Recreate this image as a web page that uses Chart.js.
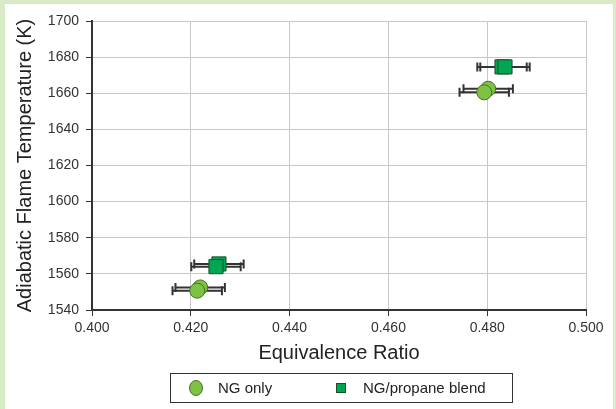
<!DOCTYPE html>
<html><head><meta charset="utf-8">
<script src="https://cdn.jsdelivr.net/npm/chart.js@4"></script>
<style>html,body{margin:0;padding:0;background:#fff}canvas{display:block}</style>
</head><body>
<canvas id="c" width="616" height="409"></canvas>
<script>
// ---- data ----
const xTicks = [0.400, 0.420, 0.440, 0.460, 0.480, 0.500];
const yTicks = [1540, 1560, 1580, 1600, 1620, 1640, 1660, 1680, 1700];
const ngX   = [0.4219, 0.4213, 0.4802, 0.4794];
const ngY   = [1552.5, 1550.7, 1662.5, 1660.5];
const ngErr = [0.005, 0.005, 0.005, 0.005];
const blX   = [0.4257, 0.4251, 0.4830, 0.4836];
const blY   = [1565.5, 1564.0, 1674.6, 1674.6];
const blErr = [0.005, 0.005, 0.005, 0.005];
const seriesNames = ['NG only', 'NG/propane blend'];

const toPts = (xs, ys) => xs.map((x, i) => ({x, y: ys[i]}));

const bgPlugin = {
  id: 'bg',
  beforeDraw(chart) {
    const ctx = chart.ctx;
    ctx.save();
    ctx.fillStyle = '#d9ebc6';
    ctx.fillRect(0, 0, chart.width, chart.height);
    ctx.fillStyle = '#ffffff';
    ctx.fillRect(5, 4, chart.width - 8, chart.height - 4);
    ctx.restore();
  }
};

const errPlugin = {
  id: 'errbars',
  beforeDatasetsDraw(chart) {
    const ctx = chart.ctx, xs = chart.scales.x, ys = chart.scales.y;
    ctx.save();
    ctx.strokeStyle = '#333333';
    ctx.lineWidth = 2;
    chart.data.datasets.forEach(ds => {
      ds.data.forEach((p, i) => {
        const e = ds.xErr[i];
        const x1 = xs.getPixelForValue(p.x - e), x2 = xs.getPixelForValue(p.x + e);
        const y = ys.getPixelForValue(p.y);
        ctx.beginPath();
        ctx.moveTo(x1, y); ctx.lineTo(x2, y);
        ctx.moveTo(x1, y - 4.5); ctx.lineTo(x1, y + 4.5);
        ctx.moveTo(x2, y - 4.5); ctx.lineTo(x2, y + 4.5);
        ctx.stroke();
      });
    });
    ctx.restore();
  }
};

const legendPlugin = {
  id: 'boxLegend',
  afterDraw(chart) {
    const ctx = chart.ctx;
    const ds = chart.data.datasets;
    ctx.save();
    ctx.strokeStyle = '#333333';
    ctx.lineWidth = 1;
    ctx.strokeRect(170.5, 373.5, 342, 29);
    const cy = 388;
    ctx.font = '15px "Liberation Sans", Arial, sans-serif';
    ctx.textBaseline = 'middle';
    // circle
    ctx.beginPath();
    ctx.ellipse(196, cy, 6.5, 7.5, 0, 0, Math.PI * 2);
    ctx.fillStyle = ds[0].backgroundColor; ctx.fill();
    ctx.strokeStyle = ds[0].borderColor; ctx.stroke();
    ctx.fillStyle = '#222222';
    ctx.fillText(ds[0].label, 218, cy + 1);
    // square
    ctx.fillStyle = ds[1].backgroundColor;
    ctx.fillRect(336, cy - 5, 10, 10);
    ctx.strokeStyle = ds[1].borderColor;
    ctx.strokeRect(336.5, cy - 4.5, 9, 9);
    ctx.fillStyle = '#222222';
    ctx.fillText(ds[1].label, 363, cy + 1);
    ctx.restore();
  }
};

const tickFont = {family: '"Liberation Sans", Arial, sans-serif', size: 14};
const titleFont = {family: '"Liberation Sans", Arial, sans-serif', size: 20};

new Chart(document.getElementById('c'), {
  type: 'scatter',
  data: {
    datasets: [
      {label: seriesNames[0], data: toPts(ngX, ngY), xErr: ngErr,
       pointStyle: 'circle', pointRadius: 7.5, pointHoverRadius: 7.5,
       backgroundColor: '#7dc243', borderColor: '#4a6e2a', borderWidth: 1},
      {label: seriesNames[1], data: toPts(blX, blY), xErr: blErr,
       pointStyle: 'rect', pointRadius: 10, pointHoverRadius: 10,
       backgroundColor: '#00a651', borderColor: '#1d4f2c', borderWidth: 1}
    ]
  },
  options: {
    responsive: false,
    animation: false,
    layout: {padding: {left: 5, right: 30, top: 21, bottom: 39}},
    plugins: {legend: {display: false}, tooltip: {enabled: false}},
    scales: {
      x: {
        type: 'linear', min: xTicks[0], max: xTicks[xTicks.length - 1],
        afterBuildTicks: s => { s.ticks = xTicks.map(v => ({value: v})); },
        afterFit: s => { s.height = 60; },
        ticks: {font: tickFont, color: '#333333', padding: 4, callback: v => v.toFixed(3)},
        grid: {color: '#c8c8c8', tickColor: '#333333', tickLength: 6, lineWidth: 1},
        border: {color: '#333333', width: 2},
        title: {display: true, text: 'Equivalence Ratio', font: titleFont, color: '#222222', padding: {top: 0, bottom: 5}}
      },
      y: {
        type: 'linear', min: yTicks[0], max: yTicks[yTicks.length - 1],
        afterBuildTicks: s => { s.ticks = yTicks.map(v => ({value: v})); },
        afterFit: s => { s.width = 87; },
        ticks: {font: tickFont, color: '#333333', padding: 7, callback: v => String(v)},
        grid: {color: '#c8c8c8', tickColor: '#333333', tickLength: 6, lineWidth: 1},
        border: {color: '#333333', width: 2},
        title: {display: true, text: 'Adiabatic Flame Temperature (K)', font: titleFont, color: '#222222', padding: {top: 8, bottom: 0}}
      }
    }
  },
  plugins: [bgPlugin, errPlugin, legendPlugin]
});
</script>
</body></html>
